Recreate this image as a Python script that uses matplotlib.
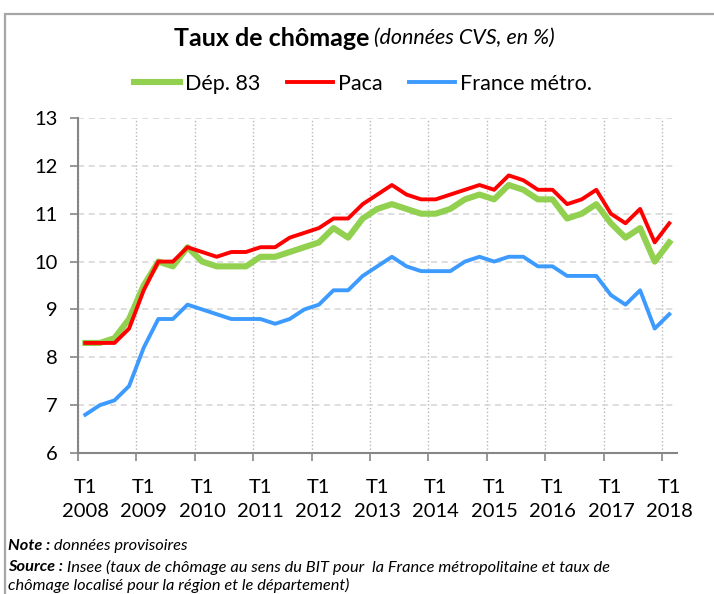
import numpy as np
import matplotlib
matplotlib.use("Agg")
import matplotlib.pyplot as plt
from matplotlib.patches import Rectangle

plt.rcParams['font.family'] = ['Lato', 'DejaVu Sans']

# quarterly data, T1 2008 -> T1 2018
years = [str(y) for y in range(2008, 2019)]
dep83 = [8.3, 8.3, 8.4, 8.8, 9.5, 10.0, 9.9, 10.3, 10.0, 9.9, 9.9, 9.9, 10.1, 10.1, 10.2,
         10.3, 10.4, 10.7, 10.5, 10.9, 11.1, 11.2, 11.1, 11.0, 11.0, 11.1, 11.3, 11.4, 11.3,
         11.6, 11.5, 11.3, 11.3, 10.9, 11.0, 11.2, 10.8, 10.5, 10.7, 10.0, 10.4]
paca = [8.3, 8.3, 8.3, 8.6, 9.4, 10.0, 10.0, 10.3, 10.2, 10.1, 10.2, 10.2, 10.3, 10.3, 10.5,
        10.6, 10.7, 10.9, 10.9, 11.2, 11.4, 11.6, 11.4, 11.3, 11.3, 11.4, 11.5, 11.6, 11.5,
        11.8, 11.7, 11.5, 11.5, 11.2, 11.3, 11.5, 11.0, 10.8, 11.1, 10.4, 10.8]
france = [6.8, 7.0, 7.1, 7.4, 8.2, 8.8, 8.8, 9.1, 9.0, 8.9, 8.8, 8.8, 8.8, 8.7, 8.8,
          9.0, 9.1, 9.4, 9.4, 9.7, 9.9, 10.1, 9.9, 9.8, 9.8, 9.8, 10.0, 10.1, 10.0,
          10.1, 10.1, 9.9, 9.9, 9.7, 9.7, 9.7, 9.3, 9.1, 9.4, 8.6, 8.9]
series_names = ["Dép. 83", "Paca", "France métro."]
colors = ["#92d050", "#ff0000", "#3d9bff"]

W, H = 714, 594
fig = plt.figure(figsize=(W / 100, H / 100), dpi=100)
ax = fig.add_axes([78 / W, 1 - 453 / H, 598.6 / W, 335 / H])

x = np.arange(len(dep83))
ax.plot(x, dep83, color=colors[0], lw=4.4, label=series_names[0], zorder=3)
ax.plot(x, paca, color=colors[1], lw=2.8, label=series_names[1], zorder=4)
ax.plot(x, france, color=colors[2], lw=2.8, label=series_names[2], zorder=4)

ax.set_xlim(-0.5, len(x) - 0.5)
ax.set_ylim(6, 13)
ax.set_yticks(range(6, 14))

# ticks between categories, labels on the T1 points
ax.set_xticks(np.arange(-0.5, len(x), 4))
ax.set_xticklabels([])
ax.set_xticks(np.arange(0, len(x), 4), minor=True)
ax.set_xticklabels(["T1\n" + y for y in years], minor=True, linespacing=1.5)
ax.tick_params(axis='x', which='major', length=5.5, width=1.2, color='#868686')
ax.tick_params(axis='x', which='minor', length=0, pad=18.5, labelsize=14.5)
ax.tick_params(axis='y', length=5.5, width=1.2, color='#868686', pad=9, labelsize=14.5)

ax.grid(axis='y', which='major', ls=(0, (4, 3)), color='#d4d4d4', lw=1.1, zorder=0)
ax.grid(axis='x', which='major', ls=':', color='#b8b8b8', lw=1.0, zorder=0)
ax.set_axisbelow(True)
for s in ['top', 'right']:
    ax.spines[s].set_visible(False)
for s in ['left', 'bottom']:
    ax.spines[s].set_color('#868686')
    ax.spines[s].set_linewidth(1.5)

# title in two parts
fig.text(369 / W, 1 - 38 / H, "Taux de chômage", ha='right', va='center',
         fontsize=18, fontweight='bold')
fig.text(374 / W, 1 - 38 / H, "(données CVS, en %)", ha='left', va='center',
         fontsize=15.5, style='italic')

fig.legend(loc='center', bbox_to_anchor=(363 / W, 1 - 84 / H), ncol=3, frameon=False,
           fontsize=15.5, handlelength=2.15, handletextpad=0.2, columnspacing=1.25)

# footer notes
fs = 11.8
t1 = fig.text(8 / W, 1 - 546 / H, "Note :", fontsize=fs, style='italic',
              fontweight='bold', va='center')
ax.annotate(" données provisoires", xy=(1, 0.5), xycoords=t1, va='center', ha='left',
            fontsize=fs, style='italic', annotation_clip=False)
t2 = fig.text(8 / W, 1 - 567 / H, "Source :", fontsize=fs, style='italic',
              fontweight='bold', va='center')
ax.annotate(" Insee (taux de chômage au sens du BIT pour  la France métropolitaine et taux de",
            xy=(1, 0.5), xycoords=t2, va='center', ha='left',
            fontsize=fs, style='italic', annotation_clip=False)
fig.text(8 / W, 1 - 585 / H, "chômage localisé pour la région et le département)",
         fontsize=fs, style='italic', va='center')

# outer frame
fig.patches.append(Rectangle((5 / W, -0.1), 1.2, 1.1 - 14 / H, transform=fig.transFigure,
                             fill=False, edgecolor='#a6a6a6', lw=1.6, zorder=0))

fig.savefig("out.png", dpi=100)
